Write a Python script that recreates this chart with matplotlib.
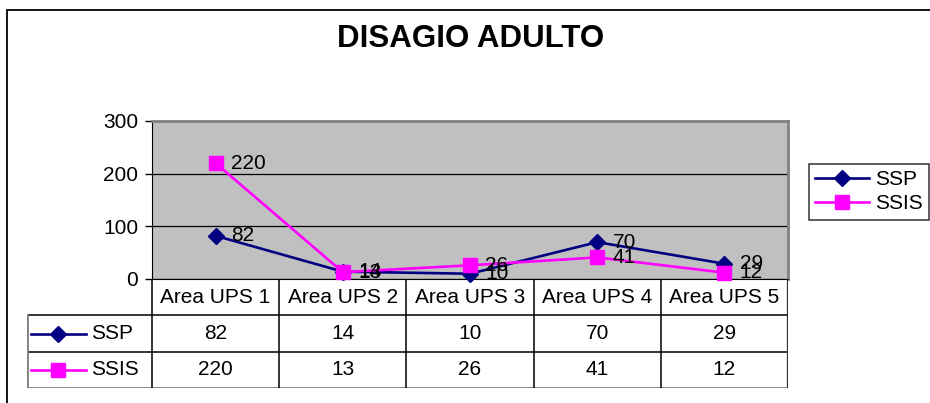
import matplotlib.pyplot as plt
from matplotlib.lines import Line2D
from matplotlib.patches import Rectangle

plt.rcParams['font.family'] = ['Liberation Sans', 'DejaVu Sans']

# data
categories = ["Area UPS 1", "Area UPS 2", "Area UPS 3", "Area UPS 4", "Area UPS 5"]
series_names = ["SSP", "SSIS"]
ssp = [82, 14, 10, 70, 29]
ssis = [220, 13, 26, 41, 12]
yticks = [0, 100, 200, 300]

colors = {"SSP": "#000080", "SSIS": "#FF00FF"}
markers = {"SSP": ("D", 7.8), "SSIS": ("s", 10.5)}
values = {"SSP": ssp, "SSIS": ssis}

W, H = 930, 403
fig = plt.figure(figsize=(W / 100, H / 100), dpi=100)


def box(x0, y0, x1, y1):
    # pixel box (top-left origin) -> figure fraction rect
    return [x0 / W, 1 - y1 / H, (x1 - x0) / W, (y1 - y0) / H]


# outer chart border (runs off the right and bottom edges)
fig.patches.append(Rectangle((7 / W, -0.1), 1.2, 1 - 10 / H + 0.1, transform=fig.transFigure,
                             fill=False, edgecolor="black", linewidth=1.3))

fig.text(471 / W, 1 - 39 / H, "DISAGIO ADULTO", fontsize=22.5, fontweight="bold",
         ha="center", va="center")

# plot area
ax_l, ax_r, ax_t, ax_b = 152, 788, 121, 279
ax = fig.add_axes(box(ax_l, ax_t, ax_r, ax_b))
ax.set_facecolor("#C0C0C0")
x = list(range(len(categories)))
for name in series_names:
    m, ms = markers[name]
    ax.plot(x, values[name], color=colors[name], lw=1.9, marker=m, markersize=ms,
            clip_on=False, zorder=3)
    for xi, v in zip(x, values[name]):
        ax.annotate(str(v), (xi, v), xytext=(11, 0), textcoords="offset points",
                    ha="left", va="center", fontsize=15, color="black", zorder=4)
ax.set_xlim(-0.5, len(categories) - 0.5)
ax.set_ylim(0, 300)
ax.set_yticks(yticks)
ax.set_xticks([])
ax.tick_params(axis="y", direction="out", length=5, width=1, labelsize=15, pad=5)
ax.yaxis.grid(True, color="black", lw=0.9)
ax.set_axisbelow(True)
for s in ["top", "right"]:
    ax.spines[s].set_color("#808080")
    ax.spines[s].set_linewidth(2)
ax.spines["left"].set_color("black")
ax.spines["bottom"].set_color("black")

# data table
tab_l, tab_b = 27, 388
cw = (ax_r - ax_l) / len(categories)
left_units = (ax_l - tab_l) / cw
tab = fig.add_axes(box(tab_l, ax_b, ax_r, tab_b))
tab.set_xlim(-0.5 - left_units, len(categories) - 0.5)
tab.set_ylim(3, 0)
tab.axis("off")
lc = "black"
xl = -0.5 - left_units
xr = len(categories) - 0.5
# horizontal lines
tab.plot([xl, xr], [1, 1], color=lc, lw=1.1)
tab.plot([xl, xr], [2, 2], color=lc, lw=1.1)
tab.plot([xl, xr], [3, 3], color="#808080", lw=2, solid_capstyle="butt")
# vertical lines
for i in range(len(categories)):
    tab.plot([i - 0.5, i - 0.5], [0, 3], color=lc, lw=1.1)
tab.plot([xr, xr], [0, 3], color="#303030", lw=1.6)
tab.plot([xl, xl], [1, 3], color="#808080", lw=2)

for i, c in enumerate(categories):
    tab.text(i, 0.5, c, ha="center", va="center", fontsize=15)
for r, name in enumerate(series_names):
    yr = r + 1.5
    for i, v in enumerate(values[name]):
        tab.text(i, yr, str(v), ha="center", va="center", fontsize=15)
    m, ms = markers[name]
    k0 = xl + 4 / cw
    k1 = xl + 59 / cw
    tab.plot([k0, k1], [yr, yr], color=colors[name], lw=1.9)
    tab.plot([(k0 + k1) / 2], [yr], color=colors[name], marker=m, markersize=ms, lw=0)
    tab.text(xl + 64 / cw, yr, name, ha="left", va="center", fontsize=15)

# legend
handles = [Line2D([], [], color=colors[n], lw=1.9, marker=markers[n][0],
                  markersize=markers[n][1]) for n in series_names]
leg = fig.legend(handles, series_names, loc="upper left",
                 bbox_to_anchor=(809 / W, 1 - 164 / H), fontsize=15, frameon=True,
                 fancybox=False, edgecolor="black", handlelength=2.6, handletextpad=0.25,
                 borderpad=0.3, labelspacing=0.25, borderaxespad=0)
leg.get_frame().set_linewidth(1.1)

fig.savefig("out.png", dpi=100)
